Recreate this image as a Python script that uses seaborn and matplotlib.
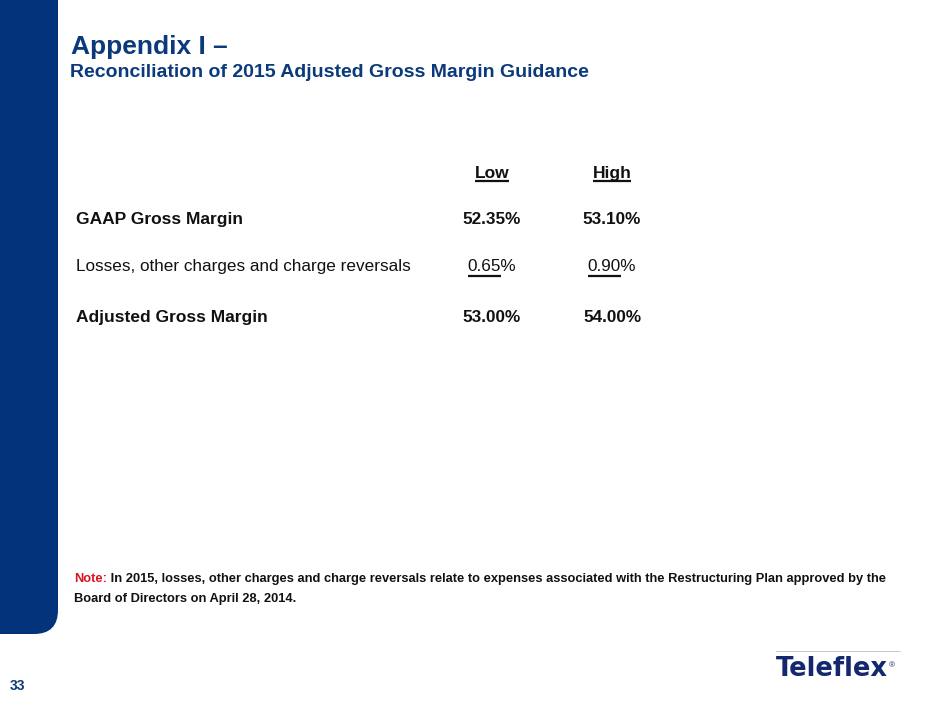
import matplotlib
matplotlib.use("Agg")
import matplotlib.pyplot as plt
from matplotlib.patches import FancyBboxPatch
import seaborn as sns
import pandas as pd

# ---- data ----
title = "Appendix I \u2013"
subtitle = "Reconciliation of 2015 Adjusted Gross Margin Guidance"
columns = ["Low", "High"]
row_labels = ["GAAP Gross Margin",
              "Losses, other charges and charge reversals",
              "Adjusted Gross Margin"]
row_bold = [True, False, True]
row_underlined = [False, True, False]
low_values = [52.35, 0.65, 53.00]
high_values = [53.10, 0.90, 54.00]
note_label = "Note:"
note_line1 = " In 2015, losses, other charges and charge reversals relate to expenses associated with the Restructuring Plan approved by the"
note_line2 = "Board of Directors on April 28, 2014."
page_number = "33"
logo_text = "Teleflex"

table = pd.DataFrame({"label": row_labels, "Low": low_values, "High": high_values,
                      "bold": row_bold, "underline": row_underlined})

sns.set_theme(style="white")
plt.rcParams["font.family"] = ["Liberation Sans", "DejaVu Sans"]

NAVY = "#0B3A7C"
BAR = "#03337A"
RED = "#D8141E"
INK = "#111111"
LOGO = "#14286E"

fig = plt.figure(figsize=(9.4, 7.05), dpi=100)
ax = fig.add_axes([0, 0, 1, 1])
ax.set_xlim(0, 940)
ax.set_ylim(705, 0)
ax.axis("off")

# left navy band with rounded bottom-right corner
ax.add_patch(FancyBboxPatch((-40, -40), 98, 674, boxstyle="round,pad=0,rounding_size=24",
                            facecolor=BAR, edgecolor="none"))

ax.text(71, 54, title, fontsize=19, fontweight="bold", color=NAVY, va="baseline", ha="left")
ax.text(70, 77, subtitle, fontsize=14, fontweight="bold", color=NAVY, va="baseline", ha="left")

fig.canvas.draw()
renderer = fig.canvas.get_renderer()
inv = ax.transData.inverted()


def underline(t, y, sub=None, lw=1.6):
    """draw an underline at data-y under text object t (optionally only under a prefix)."""
    bb = t.get_window_extent(renderer)
    x0 = inv.transform((bb.x0, bb.y0))[0]
    x1 = inv.transform((bb.x1, bb.y0))[0]
    if sub is not None:
        tmp = ax.text(x0, 0, sub, fontsize=t.get_fontsize(), fontweight=t.get_fontweight(),
                      ha="left", va="center")
        bb2 = tmp.get_window_extent(renderer)
        x1 = inv.transform((bb2.x1, bb2.y0))[0]
        tmp.remove()
    ax.plot([x0, x1], [y, y], color=INK, lw=lw, solid_capstyle="butt")


col_x = {"Low": 492, "High": 612}
header_base = 178
for c in columns:
    t = ax.text(col_x[c], header_base, c, fontsize=12.5, fontweight="bold", color=INK,
                ha="center", va="baseline")
    underline(t, header_base + 2.5)

row_base = [224, 271, 322]
for i, r in table.iterrows():
    fw = "bold" if r["bold"] else "normal"
    fs_label = 12.5 if r["bold"] else 12.3
    ax.text(76, row_base[i], r["label"], fontsize=fs_label, fontweight=fw, color=INK,
            ha="left", va="baseline")
    for c in columns:
        s = f"{r[c]:.2f}%"
        t = ax.text(col_x[c], row_base[i], s, fontsize=12.3, fontweight=fw, color=INK,
                    ha="center", va="baseline")
        if r["underline"]:
            underline(t, row_base[i] + 5, sub=s[:-1])

# note
NOTE_FS = 9.25
nl = ax.text(74, 582, note_label, fontsize=NOTE_FS, fontweight="bold", color=RED,
             ha="left", va="baseline")
bb = nl.get_window_extent(renderer)
nx = inv.transform((bb.x1, bb.y0))[0]
ax.text(nx, 582, note_line1, fontsize=NOTE_FS, fontweight="bold", color=INK,
        ha="left", va="baseline")
ax.text(74, 602, note_line2, fontsize=NOTE_FS, fontweight="bold", color=INK,
        ha="left", va="baseline")

# page number
ax.text(10, 690, page_number, fontsize=10, fontweight="bold", color=NAVY, ha="left", va="baseline")

# logo
ax.plot([776, 900], [651, 651], color="#C2C8D2", lw=0.7)
lt = ax.text(776, 676, logo_text, fontsize=18.5, fontweight="bold", color=LOGO,
             ha="left", va="baseline", family=["DejaVu Sans"])
lbb = lt.get_window_extent(renderer)
lx = inv.transform((lbb.x1, lbb.y0))[0]
ax.text(lx + 1, 666, "\u00ae", fontsize=6, color=LOGO, ha="left", va="center")

fig.savefig("out.png", dpi=100)
